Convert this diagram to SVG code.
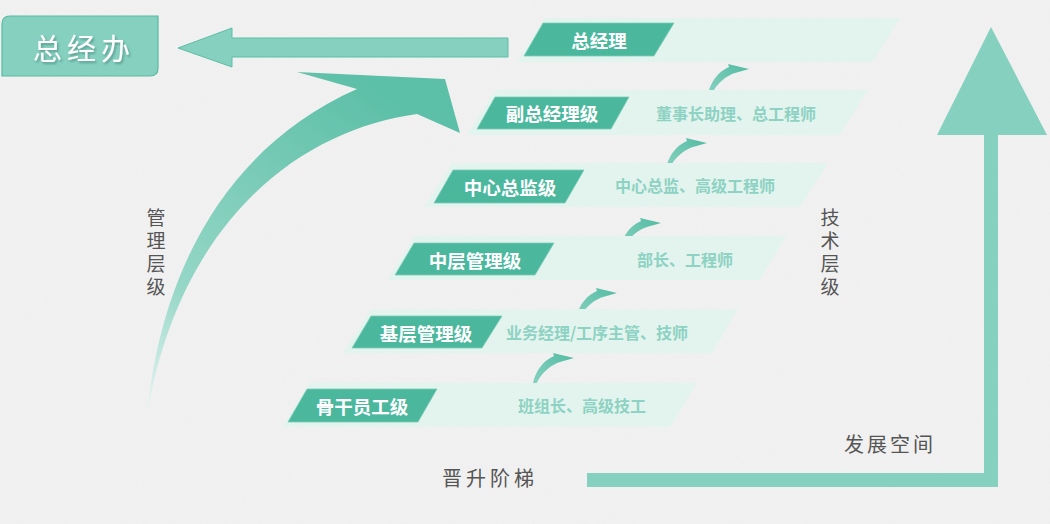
<svg xmlns="http://www.w3.org/2000/svg" width="1050" height="524" viewBox="0 0 1050 524">
<defs>
<style>
.band{fill:#e3f4ef}
.tag{fill:#4bb89e;stroke:#7fcdb9;stroke-width:0.8}
.tagt{font-family:"Noto Sans CJK SC","Noto Sans",sans-serif;font-weight:700;font-size:18.5px;fill:#ffffff;text-anchor:middle;dominant-baseline:central}
.sub{font-family:"Noto Sans CJK SC","Noto Sans",sans-serif;font-weight:700;font-size:16px;fill:#8dd2c2;text-anchor:middle;dominant-baseline:central}
.lbl{font-family:"Noto Sans CJK SC","Noto Sans",sans-serif;font-weight:400;font-size:20px;fill:#555555;text-anchor:middle;dominant-baseline:central}
.vl{font-size:19px;writing-mode:vertical-rl;letter-spacing:4px}
.mint{fill:#86d0c0}
</style>
<linearGradient id="bigGrad" gradientUnits="userSpaceOnUse" x1="150" y1="415" x2="380" y2="90">
<stop offset="0" stop-color="#e8f6f2"/>
<stop offset="0.3" stop-color="#96d7c7"/>
<stop offset="1" stop-color="#5cbfa7"/>
</linearGradient>
<linearGradient id="swGrad" x1="0" y1="1" x2="1" y2="0">
<stop offset="0" stop-color="#8fd5c4"/>
<stop offset="1" stop-color="#52bba2"/>
</linearGradient>
<path id="swoosh" d="M0,0 C0,-16 8,-31 22,-37 L21,-40 L42,-35 L28,-31 C15,-27 4,-14 1.5,0 Z" fill="url(#swGrad)"/>
<filter id="tshadow" x="-10%" y="-20%" width="130%" height="150%">
<feDropShadow dx="1.5" dy="2" stdDeviation="1.2" flood-color="#3a7f70" flood-opacity="0.6"/>
</filter>
<filter id="noise" x="0" y="0" width="100%" height="100%">
<feTurbulence type="fractalNoise" baseFrequency="0.9" numOctaves="2" seed="3" result="n"/>
<feColorMatrix type="matrix" values="0 0 0 0 0.55  0 0 0 0 0.55  0 0 0 0 0.55  0 0 0 0.12 0"/>
</filter>
</defs>

<rect x="0" y="0" width="1050" height="524" fill="#f2f2f2"/>
<rect x="0" y="0" width="1050" height="524" filter="url(#noise)" opacity="0.6"/>

<g id="node-zongjingban">
<path d="M2,24 Q2,16 10,16 L158,16 L158,68 Q158,76 150,76 L2,76 Z" fill="#86d0c0" stroke="#56bba1" stroke-width="1.2"/>
<text x="84" y="47" font-family="Noto Sans CJK SC,Noto Sans,sans-serif" font-size="29" letter-spacing="5" fill="#ffffff" text-anchor="middle" dominant-baseline="central" filter="url(#tshadow)">总经办</text>
</g>

<g id="connectors">
<polygon points="178,48 232,28 232,38 508,38 508,57 232,57 232,67" fill="#86d0c0" stroke="#5cbfa6" stroke-width="1"/>
<path d="M147,415 C160,280 220,150 357,89 L297,72 L445,79 L460,133 L417,114 C300,130 180,220 147,415 Z" fill="url(#bigGrad)"/>
<polygon points="991,27 1047,135 937,135" class="mint"/>
<polygon points="587,473 984,473 984,135 998,135 998,487 587,487" class="mint"/>
<use href="#swoosh" x="532" y="393"/>
<use href="#swoosh" x="575" y="328"/>
<use href="#swoosh" x="619" y="258"/>
<use href="#swoosh" x="665" y="178"/>
<use href="#swoosh" x="707" y="104"/>
</g>

<g id="level-1">
<polygon class="band" points="545,18 900,18 873,62 517,62"/>
<polygon class="tag" points="543,23 674,23 654,56 524,56"/>
<text class="tagt" x="599" y="40">总经理</text>
</g>

<g id="level-2">
<polygon class="band" points="495,90 868,90 840,135 467,135"/>
<polygon class="tag" points="495,97 629,97 611,129 477,129"/>
<text class="tagt" x="552" y="113">副总经理级</text>
<text class="sub" x="736" y="113">董事长助理、总工程师</text>
</g>

<g id="level-3">
<polygon class="band" points="452,163 828,163 800,207 424,207"/>
<polygon class="tag" points="453,170 584,170 565,203 434,203"/>
<text class="tagt" x="510" y="187">中心总监级</text>
<text class="sub" x="695" y="185">中心总监、高级工程师</text>
</g>

<g id="level-4">
<polygon class="band" points="415,236 786,236 760,280 387,280"/>
<polygon class="tag" points="414,243 554,243 535,275 395,275"/>
<text class="tagt" x="475" y="260">中层管理级</text>
<text class="sub" x="685" y="259">部长、工程师</text>
</g>

<g id="level-5">
<polygon class="band" points="371,309 738,309 712,353 343,353"/>
<polygon class="tag" points="371,316 502,316 482,348 352,348"/>
<text class="tagt" x="426" y="333">基层管理级</text>
<text class="sub" x="597" y="332">业务经理/工序主管、技师</text>
</g>

<g id="level-6">
<polygon class="band" points="310,383 697,383 670,427 282,427"/>
<polygon class="tag" points="307,389 437,389 418,422 288,422"/>
<text class="tagt" x="362" y="406">骨干员工级</text>
<text class="sub" x="582" y="405">班组长、高级技工</text>
</g>

<g id="labels">
<text class="lbl vl" x="156" y="254">管理层级</text>
<text class="lbl vl" x="830" y="254">技术层级</text>
<text class="lbl" x="890" y="443" font-size="21" letter-spacing="3">发展空间</text>
<text class="lbl" x="490" y="477" letter-spacing="4">晋升阶梯</text>
</g>
</svg>
